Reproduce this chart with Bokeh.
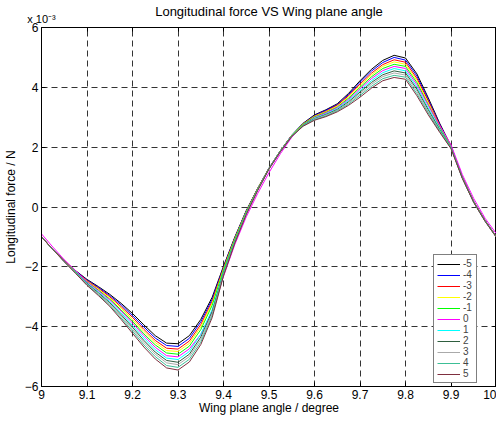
from bokeh.plotting import figure
from bokeh.models import (Legend, LegendItem, FixedTicker, LinearAxis,
                          CustomJSTickFormatter, Range1d)
from bokeh.embed import file_html
from bokeh.resources import INLINE

# Wing plane angle (degree)
x_deg = [9.000, 9.025, 9.050, 9.075, 9.100, 9.125, 9.150, 9.175, 9.200, 9.225,
         9.250, 9.275, 9.300, 9.325, 9.350, 9.375, 9.400, 9.425, 9.450, 9.475,
         9.500, 9.525, 9.550, 9.575, 9.600, 9.625, 9.650, 9.675, 9.700, 9.725,
         9.750, 9.775, 9.800, 9.825, 9.850, 9.875, 9.900, 9.925, 9.950, 9.975,
         10.000]

# Longitudinal force (x 1e-3 N) for each series
f_m5 = [-1.00, -1.42, -1.80, -2.13, -2.42, -2.66, -2.92, -3.22, -3.56, -3.94, -4.30, -4.55, -4.57, -4.30, -3.76, -3.02, -1.98, -1.00, -0.12, 0.62, 1.30, 1.88, 2.40, 2.80, 3.08, 3.25, 3.45, 3.80, 4.22, 4.60, 4.90, 5.07, 4.98, 4.45, 3.65, 2.80, 2.04, 1.00, 0.18, -0.45, -1.00]
f_m4 = [-1.00, -1.42, -1.80, -2.14, -2.44, -2.69, -2.96, -3.27, -3.63, -4.01, -4.38, -4.63, -4.66, -4.39, -3.84, -3.09, -2.01, -1.02, -0.13, 0.61, 1.30, 1.88, 2.40, 2.79, 3.06, 3.23, 3.42, 3.76, 4.17, 4.54, 4.83, 5.00, 4.91, 4.38, 3.59, 2.77, 2.03, 1.00, 0.18, -0.45, -1.00]
f_m3 = [-1.00, -1.42, -1.81, -2.15, -2.46, -2.72, -3.00, -3.33, -3.69, -4.09, -4.46, -4.72, -4.75, -4.48, -3.93, -3.16, -2.04, -1.04, -0.15, 0.61, 1.29, 1.87, 2.39, 2.78, 3.04, 3.20, 3.40, 3.72, 4.11, 4.47, 4.76, 4.92, 4.84, 4.30, 3.54, 2.74, 2.02, 0.99, 0.17, -0.46, -1.00]
f_m2 = [-1.00, -1.42, -1.81, -2.16, -2.48, -2.75, -3.04, -3.38, -3.76, -4.16, -4.53, -4.80, -4.83, -4.56, -4.01, -3.22, -2.08, -1.06, -0.16, 0.60, 1.29, 1.87, 2.39, 2.77, 3.03, 3.18, 3.37, 3.68, 4.06, 4.41, 4.70, 4.85, 4.77, 4.23, 3.48, 2.71, 2.01, 0.99, 0.17, -0.46, -1.01]
f_m1 = [-1.00, -1.42, -1.81, -2.17, -2.50, -2.78, -3.08, -3.44, -3.82, -4.24, -4.61, -4.88, -4.92, -4.65, -4.10, -3.29, -2.11, -1.08, -0.17, 0.59, 1.29, 1.87, 2.38, 2.76, 3.01, 3.16, 3.34, 3.64, 4.00, 4.35, 4.63, 4.77, 4.70, 4.16, 3.42, 2.68, 2.00, 0.98, 0.17, -0.46, -1.01]
f_0 = [-0.90, -1.34, -1.76, -2.13, -2.50, -2.80, -3.11, -3.48, -3.88, -4.30, -4.69, -4.97, -5.01, -4.74, -4.26, -3.50, -2.32, -1.25, -0.33, 0.45, 1.15, 1.78, 2.33, 2.74, 2.99, 3.14, 3.32, 3.60, 3.95, 4.29, 4.56, 4.70, 4.63, 4.09, 3.40, 2.72, 2.08, 1.08, 0.28, -0.38, -0.90]
f_p1 = [-1.00, -1.42, -1.82, -2.18, -2.54, -2.84, -3.16, -3.54, -3.96, -4.38, -4.77, -5.05, -5.10, -4.83, -4.26, -3.43, -2.17, -1.12, -0.20, 0.58, 1.28, 1.86, 2.38, 2.74, 2.97, 3.11, 3.29, 3.56, 3.89, 4.22, 4.49, 4.63, 4.55, 4.01, 3.31, 2.62, 1.99, 0.97, 0.16, -0.47, -1.01]
f_p2 = [-1.00, -1.42, -1.82, -2.19, -2.56, -2.87, -3.20, -3.60, -4.02, -4.46, -4.85, -5.13, -5.19, -4.92, -4.35, -3.50, -2.20, -1.14, -0.21, 0.57, 1.28, 1.86, 2.37, 2.73, 2.95, 3.09, 3.26, 3.52, 3.84, 4.16, 4.42, 4.55, 4.48, 3.94, 3.25, 2.59, 1.98, 0.97, 0.16, -0.47, -1.01]
f_p3 = [-1.00, -1.42, -1.82, -2.20, -2.58, -2.90, -3.24, -3.65, -4.09, -4.53, -4.92, -5.21, -5.27, -5.00, -4.43, -3.56, -2.24, -1.16, -0.22, 0.56, 1.28, 1.86, 2.37, 2.72, 2.94, 3.07, 3.23, 3.48, 3.78, 4.10, 4.36, 4.48, 4.41, 3.87, 3.19, 2.56, 1.97, 0.96, 0.16, -0.47, -1.02]
f_p4 = [-1.00, -1.42, -1.83, -2.21, -2.60, -2.93, -3.28, -3.71, -4.15, -4.61, -5.00, -5.30, -5.36, -5.09, -4.52, -3.63, -2.27, -1.18, -0.24, 0.56, 1.27, 1.85, 2.36, 2.71, 2.92, 3.04, 3.21, 3.44, 3.73, 4.03, 4.29, 4.40, 4.34, 3.79, 3.14, 2.53, 1.96, 0.96, 0.15, -0.48, -1.02]
f_p5 = [-1.00, -1.42, -1.83, -2.22, -2.62, -2.96, -3.32, -3.76, -4.22, -4.68, -5.08, -5.38, -5.45, -5.18, -4.60, -3.70, -2.30, -1.20, -0.25, 0.55, 1.27, 1.85, 2.36, 2.70, 2.90, 3.02, 3.18, 3.40, 3.67, 3.97, 4.22, 4.33, 4.27, 3.72, 3.08, 2.50, 1.95, 0.95, 0.15, -0.48, -1.02]

series = [f_m5, f_m4, f_m3, f_m2, f_m1, f_0, f_p1, f_p2, f_p3, f_p4, f_p5]
series_labels = ["-5", "-4", "-3", "-2", "-1", "0", "1", "2", "3", "4", "5"]
colors = ["#000000", "#0000FF", "#FF0000", "#FFFF00", "#00FF00", "#FF00FF",
          "#00FFFF", "#2F5F3F", "#AAAAAA", "#3CBF96", "#7F2F3F"]

x_ticks = [9.0, 9.1, 9.2, 9.3, 9.4, 9.5, 9.6, 9.7, 9.8, 9.9, 10.0]
y_ticks = [-6, -4, -2, 0, 2, 4, 6]
y_scale_text = "x 10\u207b\u00b3"
title_text = "Longitudinal force VS Wing plane angle"

FONT = "Liberation Sans"

p = figure(width=496, height=417, x_range=Range1d(9, 10), y_range=Range1d(-6, 6),
           output_backend="svg", toolbar_location=None,
           min_border_left=32, min_border_right=0, min_border_top=0,
           min_border_bottom=0)
p.background_fill_color = "white"
p.border_fill_color = "white"
p.outline_line_color = "black"
p.outline_line_width = 1

fmt = CustomJSTickFormatter(code="return tick.toFixed(1).replace(/\\.0$/, '');")

for ax in p.xaxis:
    ax.ticker = FixedTicker(ticks=x_ticks)
    ax.formatter = fmt
for ax in p.yaxis:
    ax.ticker = FixedTicker(ticks=y_ticks)

for ax in list(p.xaxis) + list(p.yaxis):
    ax.major_tick_in = 4
    ax.major_tick_out = 0
    ax.minor_tick_in = 0
    ax.minor_tick_out = 0
    ax.axis_line_color = "black"
    ax.major_tick_line_color = "black"
    ax.major_label_text_font = FONT
    ax.major_label_text_font_size = "12px"
    ax.major_label_text_color = "black"
    ax.axis_label_text_font = FONT
    ax.axis_label_text_font_size = "12px"
    ax.axis_label_text_font_style = "normal"
    ax.axis_label_text_color = "black"

p.xaxis.major_label_standoff = 3
p.yaxis.major_label_standoff = 3
p.xaxis.axis_label = "Wing plane angle / degree"
p.yaxis.axis_label = "Longitudinal force / N"
p.xaxis.axis_label_standoff = -1
p.yaxis.axis_label_standoff = 4

# top axis: inward ticks, the y-scale factor at the top-left corner, and the title
top_fmt = CustomJSTickFormatter(args=dict(s=y_scale_text),
                                code="return Math.abs(tick - 9) < 1e-6 ? s : '';")
top_ax = LinearAxis(ticker=FixedTicker(ticks=x_ticks), formatter=top_fmt,
                    major_tick_in=4, major_tick_out=0, minor_tick_in=0, minor_tick_out=0,
                    axis_line_color="black", major_tick_line_color="black",
                    major_label_text_font=FONT, major_label_text_font_size="11px",
                    major_label_text_color="black", major_label_text_align="left",
                    major_label_standoff=3,
                    axis_label=title_text, axis_label_text_font=FONT,
                    axis_label_text_font_size="13px", axis_label_text_font_style="normal",
                    axis_label_text_color="black", axis_label_standoff=-9)
p.add_layout(top_ax, "above")

# right axis: inward ticks only
right_fmt = CustomJSTickFormatter(code="return '';")
right_ax = LinearAxis(ticker=FixedTicker(ticks=y_ticks), formatter=right_fmt,
                      major_tick_in=4, major_tick_out=0, minor_tick_in=0, minor_tick_out=0,
                      axis_line_color="black", major_tick_line_color="black",
                      major_label_standoff=0)
p.add_layout(right_ax, "right")

p.xgrid.ticker = FixedTicker(ticks=x_ticks)
p.ygrid.ticker = FixedTicker(ticks=y_ticks)
for g in (p.xgrid, p.ygrid):
    g.grid_line_color = "#333333"
    g.grid_line_dash = "6 4"
    g.grid_line_width = 1

items = []
for ys, lab, col in zip(series, series_labels, colors):
    r = p.line(x_deg, ys, line_color=col, line_width=1)
    items.append(LegendItem(label=lab, renderers=[r]))

legend = Legend(items=items, location=(392, 3), orientation="vertical",
                label_text_font=FONT, label_text_font_size="10px",
                label_height=10, label_width=10, glyph_height=10, glyph_width=23,
                label_standoff=3, spacing=0, padding=3, margin=0,
                border_line_color="black", border_line_width=1,
                background_fill_color="white", background_fill_alpha=1.0)
p.add_layout(legend, "center")

open("out.html", "w").write(file_html(p, INLINE))
